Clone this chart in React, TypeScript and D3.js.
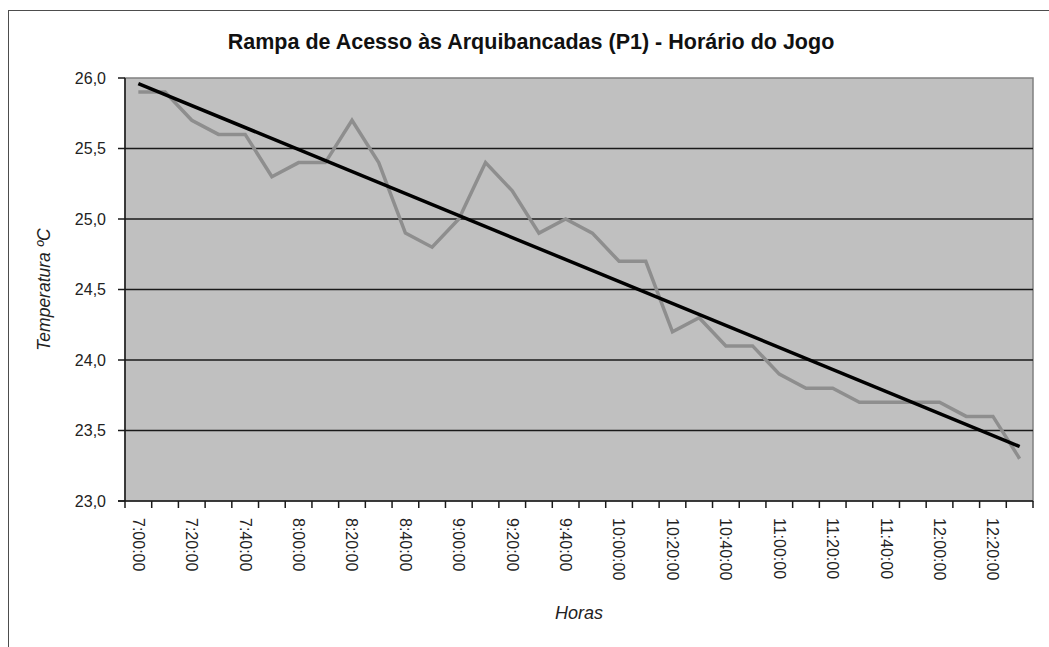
import React, { useEffect, useRef } from 'react';
import * as d3 from 'd3';

const times = [
  '7:00:00', '7:10:00', '7:20:00', '7:30:00', '7:40:00', '7:50:00',
  '8:00:00', '8:10:00', '8:20:00', '8:30:00', '8:40:00', '8:50:00',
  '9:00:00', '9:10:00', '9:20:00', '9:30:00', '9:40:00', '9:50:00',
  '10:00:00', '10:10:00', '10:20:00', '10:30:00', '10:40:00', '10:50:00',
  '11:00:00', '11:10:00', '11:20:00', '11:30:00', '11:40:00', '11:50:00',
  '12:00:00', '12:10:00', '12:20:00', '12:30:00'
];
const temps = [
  25.9, 25.9, 25.7, 25.6, 25.6, 25.3,
  25.4, 25.4, 25.7, 25.4, 24.9, 24.8,
  25.0, 25.4, 25.2, 24.9, 25.0, 24.9,
  24.7, 24.7, 24.2, 24.3, 24.1, 24.1,
  23.9, 23.8, 23.8, 23.7, 23.7, 23.7,
  23.7, 23.6, 23.6, 23.3
];
// every other category gets a label, as in the original sheet
const shownLabels = times.filter((d, i) => i % 2 === 0);
const yTicks = [23.0, 23.5, 24.0, 24.5, 25.0, 25.5, 26.0];

const FONT = '"Liberation Sans", Arial, sans-serif';

export default function App() {
  const ref = useRef<SVGSVGElement | null>(null);

  useEffect(() => {
    const svg = d3.select(ref.current);
    svg.selectAll('*').remove();

    const plot = { left: 125, right: 1033, top: 78, bottom: 501 };

    const x = d3.scaleBand().domain(times).range([plot.left, plot.right]).paddingInner(0).paddingOuter(0);
    const y = d3.scaleLinear().domain([23, 26]).range([plot.bottom, plot.top]);
    const cx = (t: string) => (x(t) as number) + x.bandwidth() / 2;

    // chart area border
    svg.append('rect')
      .attr('x', 8.5).attr('y', 10.5).attr('width', 1100).attr('height', 700)
      .attr('fill', '#fff').attr('stroke', '#4d4d4d').attr('stroke-width', 1);

    // plot area
    svg.append('rect')
      .attr('x', plot.left).attr('y', plot.top)
      .attr('width', plot.right - plot.left).attr('height', plot.bottom - plot.top)
      .attr('fill', '#c0c0c0').attr('stroke', '#808080').attr('stroke-width', 1.5);

    // gridlines
    svg.append('g')
      .selectAll('line')
      .data(yTicks.filter(d => d > 23 && d < 26))
      .enter()
      .append('line')
      .attr('x1', plot.left).attr('x2', plot.right)
      .attr('y1', d => y(d)).attr('y2', d => y(d))
      .attr('stroke', '#1a1a1a').attr('stroke-width', 1.5);

    // axes lines
    svg.append('line')
      .attr('x1', plot.left).attr('x2', plot.left).attr('y1', plot.top).attr('y2', plot.bottom)
      .attr('stroke', '#1a1a1a').attr('stroke-width', 1.5);
    svg.append('line')
      .attr('x1', plot.left - 7).attr('x2', plot.right).attr('y1', plot.bottom).attr('y2', plot.bottom)
      .attr('stroke', '#1a1a1a').attr('stroke-width', 1.5);

    // y ticks + labels
    const yAx = svg.append('g');
    yAx.selectAll('line')
      .data(yTicks)
      .enter()
      .append('line')
      .attr('x1', plot.left - 7).attr('x2', plot.left)
      .attr('y1', d => y(d)).attr('y2', d => y(d))
      .attr('stroke', '#1a1a1a').attr('stroke-width', 1.5);
    yAx.selectAll('text')
      .data(yTicks)
      .enter()
      .append('text')
      .attr('x', 106).attr('y', d => y(d)).attr('dy', '0.35em')
      .attr('text-anchor', 'end')
      .style('font-family', FONT).style('font-size', '16px').attr('fill', '#222')
      .text(d => d.toFixed(1).replace('.', ','));

    // x ticks at category boundaries
    const bounds = d3.range(times.length + 1).map(i => plot.left + i * x.bandwidth());
    svg.append('g')
      .selectAll('line')
      .data(bounds)
      .enter()
      .append('line')
      .attr('x1', d => d).attr('x2', d => d)
      .attr('y1', plot.bottom).attr('y2', plot.bottom + 7)
      .attr('stroke', '#1a1a1a').attr('stroke-width', 1.5);

    svg.append('g')
      .selectAll('text')
      .data(shownLabels)
      .enter()
      .append('text')
      .attr('transform', d => `translate(${cx(d)},518) rotate(90)`)
      .attr('dy', '0.35em')
      .attr('text-anchor', 'start')
      .style('font-family', FONT).style('font-size', '16px').attr('fill', '#222')
      .text(d => d);

    // series
    const line = d3.line<number>()
      .x((d, i) => cx(times[i]))
      .y(d => y(d));
    svg.append('path')
      .datum(temps)
      .attr('d', line)
      .attr('fill', 'none')
      .attr('stroke', '#8e8e8e')
      .attr('stroke-width', 3.5)
      .attr('stroke-linejoin', 'miter');

    // linear trendline (least squares on category index)
    const n = temps.length;
    const mx = d3.mean(d3.range(n)) as number;
    const my = d3.mean(temps) as number;
    const slope =
      d3.sum(temps, (v, i) => (i - mx) * (v - my)) / d3.sum(d3.range(n), i => (i - mx) * (i - mx));
    const icpt = my - slope * mx;
    svg.append('line')
      .attr('x1', cx(times[0])).attr('y1', y(icpt))
      .attr('x2', cx(times[n - 1])).attr('y2', y(icpt + slope * (n - 1)))
      .attr('stroke', '#000').attr('stroke-width', 3.5);

    // titles
    svg.append('text')
      .attr('x', 531).attr('y', 49)
      .attr('text-anchor', 'middle')
      .style('font-family', FONT).style('font-size', '21.5px').style('font-weight', 'bold').attr('fill', '#111')
      .text('Rampa de Acesso às Arquibancadas (P1) - Horário do Jogo');

    svg.append('text')
      .attr('x', (plot.left + plot.right) / 2).attr('y', 619)
      .attr('text-anchor', 'middle')
      .style('font-family', FONT).style('font-size', '18px').style('font-style', 'italic').attr('fill', '#222')
      .text('Horas');

    svg.append('text')
      .attr('transform', `translate(50,${(plot.top + plot.bottom) / 2}) rotate(-90)`)
      .attr('text-anchor', 'middle')
      .style('font-family', FONT).style('font-size', '17.5px').style('font-style', 'italic').attr('fill', '#222')
      .text('Temperatura ºC');
  }, []);

  return (
    <svg
      ref={ref}
      width={1049}
      height={647}
      style={{ position: 'absolute', left: 0, top: 0, display: 'block', background: '#fff' }}
    />
  );
}
